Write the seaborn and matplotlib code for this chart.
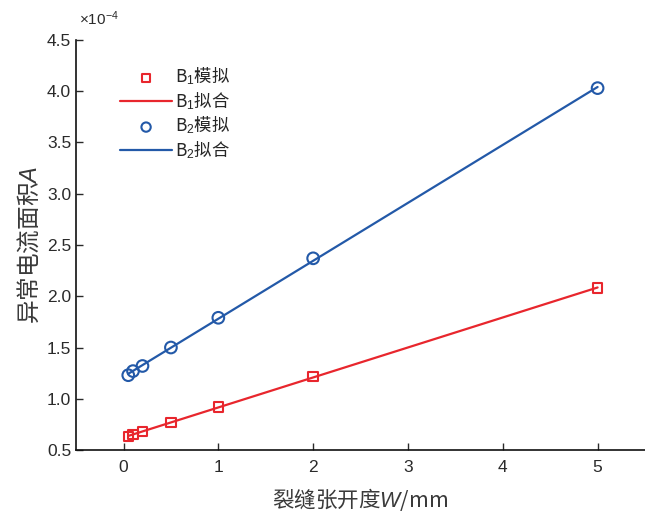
import numpy as np
import pandas as pd
import matplotlib
matplotlib.use("Agg")
import matplotlib.pyplot as plt
import seaborn as sns

# crack width (mm) and anomaly current area (x1e-4)
widths = [0.05, 0.1, 0.2, 0.5, 1, 2, 5]
b1_sim = [0.63, 0.65, 0.68, 0.77, 0.92, 1.22, 2.08]
b2_sim = [1.23, 1.27, 1.32, 1.50, 1.79, 2.37, 4.03]
x_ticks = [0, 1, 2, 3, 4, 5]
y_ticks = [0.5, 1.0, 1.5, 2.0, 2.5, 3.0, 3.5, 4.0, 4.5]
labels = ["B$_1$模拟", "B$_1$拟合", "B$_2$模拟", "B$_2$拟合"]

RED = "#E8262D"
BLUE = "#2359A8"
CJK = "Noto Sans CJK SC"

sns.set_style("ticks")
plt.rcParams["font.family"] = ["Liberation Sans", CJK, "DejaVu Sans"]
plt.rcParams["mathtext.fontset"] = "custom"
plt.rcParams["mathtext.rm"] = "Liberation Sans"
plt.rcParams["mathtext.it"] = "Liberation Sans:italic"

df = pd.DataFrame({"W": widths, "B1": b1_sim, "B2": b2_sim})

fig = plt.figure(figsize=(6.45, 5.12), dpi=100)
ax = fig.add_axes([0.118, 0.121, 0.882, 0.801])

sns.scatterplot(data=df, x="W", y="B1", ax=ax, marker="s", s=45,
                facecolor="none", edgecolor=RED, linewidth=1.5,
                label=labels[0], zorder=3)
sns.regplot(data=df, x="W", y="B1", ax=ax, scatter=False, ci=None,
            color=RED, line_kws={"lw": 1.6}, label=labels[1])
sns.scatterplot(data=df, x="W", y="B2", ax=ax, marker="o", s=70,
                facecolor="none", edgecolor=BLUE, linewidth=1.5,
                label=labels[2], zorder=3)
sns.regplot(data=df, x="W", y="B2", ax=ax, scatter=False, ci=None,
            color=BLUE, line_kws={"lw": 1.6}, label=labels[3])

ax.set_xlim(-0.5, 5.5)
ax.set_ylim(0.5, 4.5)
ax.set_xticks(x_ticks)
ax.set_yticks(y_ticks)
ax.set_yticklabels([f"{v:.1f}" for v in y_ticks])
ax.tick_params(direction="in", length=5, width=1, labelsize=12.5, colors="#2a2a2a")
ax.tick_params(axis="x", pad=7)
for side in ["top", "right"]:
    ax.spines[side].set_visible(False)
for side in ["left", "bottom"]:
    ax.spines[side].set_linewidth(1.2)
    ax.spines[side].set_color("#111111")

ax.set_xlabel("裂缝张开度$\\mathit{W}$/mm", fontsize=15.5, color="#3a3a3a",
              labelpad=8, fontfamily=CJK)
ax.set_ylabel("异常电流面积$\\mathit{A}$", fontsize=17, color="#3a3a3a",
              labelpad=4, fontfamily=CJK)
ax.text(0.005, 1.03, "×10$^{-4}$", transform=ax.transAxes, fontsize=11,
        ha="left", va="bottom", color="#2a2a2a")

leg = ax.legend(loc="upper left", bbox_to_anchor=(0.065, 0.955), frameon=False,
                prop={"family": CJK, "size": 12.5}, handlelength=3.0,
                handletextpad=0.15, labelspacing=0.17, borderaxespad=0,
                markerscale=0.8)

fig.savefig("out.png", dpi=100)
